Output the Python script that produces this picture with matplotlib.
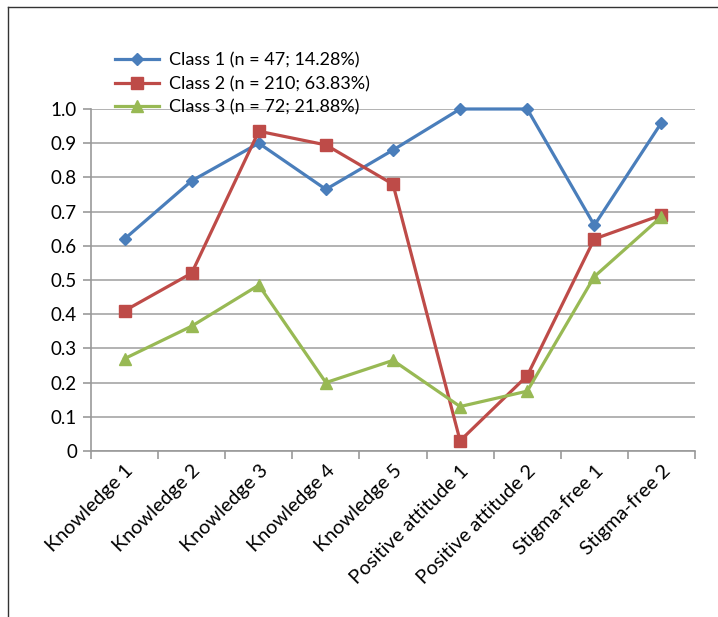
import matplotlib
matplotlib.use("Agg")
import matplotlib.pyplot as plt
from matplotlib.lines import Line2D
import numpy as np

categories = ["Knowledge 1", "Knowledge 2", "Knowledge 3", "Knowledge 4", "Knowledge 5",
              "Positive attitude 1", "Positive attitude 2", "Stigma-free 1", "Stigma-free 2"]
class1 = [0.62, 0.79, 0.90, 0.765, 0.88, 1.00, 1.00, 0.66, 0.96]
class2 = [0.41, 0.52, 0.935, 0.895, 0.78, 0.03, 0.22, 0.62, 0.69]
class3 = [0.27, 0.365, 0.485, 0.20, 0.265, 0.13, 0.175, 0.51, 0.685]
labels = ["Class 1 (n = 47; 14.28%)", "Class 2 (n = 210; 63.83%)", "Class 3 (n = 72; 21.88%)"]
yticks = [0, 0.1, 0.2, 0.3, 0.4, 0.5, 0.6, 0.7, 0.8, 0.9, 1.0]
ytick_labels = ["0", "0.1", "0.2", "0.3", "0.4", "0.5", "0.6", "0.7", "0.8", "0.9", "1.0"]

plt.rcParams['font.family'] = ['Lato', 'DejaVu Sans']

W, H = 718, 617
fig = plt.figure(figsize=(W/100, H/100), dpi=100)
ax = fig.add_axes([91/W, (H-451)/H, 604/W, 342/H])

x = np.arange(len(categories))
colors = ["#4A7EBB", "#BE4B48", "#98B954"]
markers = ["D", "s", "^"]
msizes = [6.5, 8, 8]
for vals, c, m, ms, lab in zip([class1, class2, class3], colors, markers, msizes, labels):
    ax.plot(x, vals, color=c, marker=m, markersize=ms, linewidth=2.3, label=lab,
            markeredgecolor=c, zorder=3, clip_on=False)

ax.set_xlim(-0.5, len(categories) - 0.5)
ax.set_ylim(0, 1.0)
ax.set_yticks(yticks)
ax.set_yticklabels(ytick_labels, fontsize=13.5)
ax.set_xticks(x)
ax.set_xticklabels(categories, rotation=45, ha='right', rotation_mode='anchor', fontsize=14.3)
ax.set_xticks(np.arange(-0.5, len(categories), 1.0), minor=True)
ax.tick_params(axis='x', which='major', length=0, pad=8)
ax.tick_params(axis='x', which='minor', length=6, color="#999999", width=1.2, direction='out')
ax.tick_params(axis='y', length=6, color="#999999", width=1.2, direction='out', pad=4)
ax.yaxis.grid(True, color="#a6a6a6", linewidth=1.2)
ax.set_axisbelow(True)
for s in ['top', 'right']:
    ax.spines[s].set_visible(False)
for s in ['left', 'bottom']:
    ax.spines[s].set_color("#999999")
    ax.spines[s].set_linewidth(1.2)

leg = ax.legend(loc='upper left', bbox_to_anchor=(17/604, 1 + 64/342), frameon=False,
                fontsize=13, handlelength=2.4, labelspacing=0.42, borderaxespad=0,
                handletextpad=0.6)

# outer frame lines (top and left)
fig.add_artist(Line2D([8/W, 1], [1 - 7/H, 1 - 7/H], color="#333333", linewidth=1.0))
fig.add_artist(Line2D([8/W, 8/W], [0, 1 - 7/H], color="#333333", linewidth=1.0))

fig.savefig("out.png", dpi=100)
